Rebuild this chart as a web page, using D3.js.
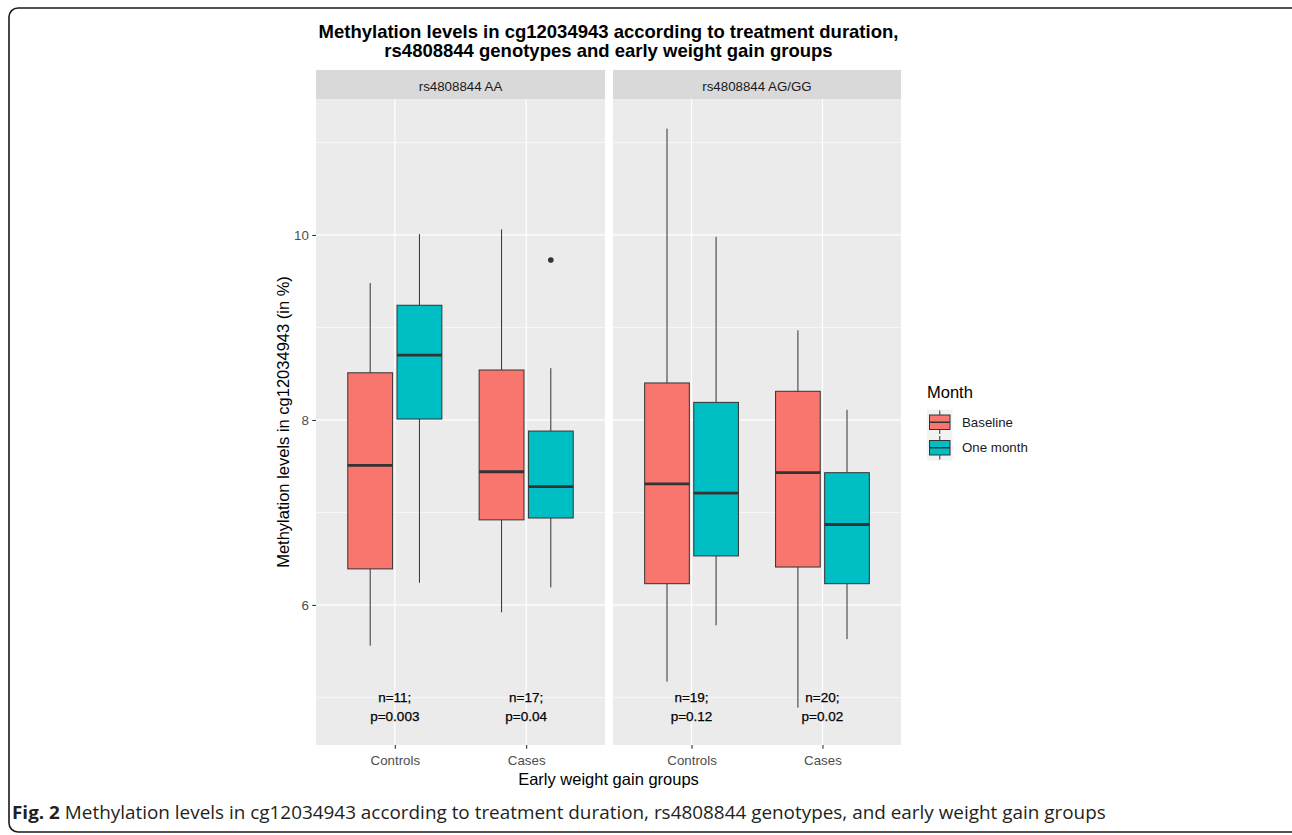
<!DOCTYPE html>
<html>
<head>
<meta charset="utf-8">
<script src="https://cdn.jsdelivr.net/npm/d3@7"></script>
<style>
  html, body { margin: 0; padding: 0; background: #ffffff; }
  svg { display: block; }
  text { font-family: "Liberation Sans", Arial, sans-serif; }
</style>
</head>
<body>
<svg id="chart" width="1292" height="835"></svg>
<script>
// ---------------- DATA ----------------
const genotypes = ["rs4808844 AA", "rs4808844 AG/GG"];
const groups = ["Controls", "Cases"];
const months = ["Baseline", "One month"];
const yTicks = [6, 8, 10];
const yMinorTicks = [5, 7, 9, 11];

// box statistics: [lower whisker, Q1, median, Q3, upper whisker]
const aaControlsBaseline   = [5.56, 6.39, 7.51, 8.51, 9.48];
const aaControlsOneMonth   = [6.24, 8.01, 8.70, 9.24, 10.01];
const aaCasesBaseline      = [5.92, 6.92, 7.44, 8.54, 10.06];
const aaCasesOneMonth      = [6.19, 6.94, 7.28, 7.88, 8.56];
const aggControlsBaseline  = [5.17, 6.23, 7.31, 8.40, 11.15];
const aggControlsOneMonth  = [5.78, 6.53, 7.21, 8.19, 9.98];
const aggCasesBaseline     = [4.89, 6.41, 7.43, 8.31, 8.97];
const aggCasesOneMonth     = [5.63, 6.23, 6.87, 7.43, 8.11];

// outliers: [genotype index, group index, month index, value]
const outliers = [[0, 1, 1, 9.73]];

// annotation texts per genotype / group
const nLabels = [["n=11;", "n=17;"], ["n=19;", "n=20;"]];
const pLabels = [["p=0.003", "p=0.04"], ["p=0.12", "p=0.02"]];
const annotNValue = 5.0;
const annotPValue = 4.80;

const titleLines = ["Methylation levels in cg12034943 according to treatment duration,",
                    "rs4808844 genotypes and early weight gain groups"];
const yTitle = "Methylation levels in cg12034943 (in %)";
const xTitle = "Early weight gain groups";
const legendTitle = "Month";
const captionBold = "Fig. 2";
const captionText = " Methylation levels in cg12034943 according to treatment duration, rs4808844 genotypes, and early weight gain groups";

const yDomain = [4.486, 11.47];

// ---------------- STYLE ----------------
const colors = d3.scaleOrdinal().domain(months).range(["#F8766D", "#00BFC4"]);
const panelBg = "#ebebeb", stripBg = "#d9d9d9", ink = "#333333";
const panels = [{x0: 316, x1: 605}, {x0: 613, x1: 901}];
const panelTop = 99, panelBottom = 745, stripTop = 70;

const stats = [
  [[aaControlsBaseline, aaControlsOneMonth], [aaCasesBaseline, aaCasesOneMonth]],
  [[aggControlsBaseline, aggControlsOneMonth], [aggCasesBaseline, aggCasesOneMonth]]
];
const table = [];
genotypes.forEach((g, gi) => groups.forEach((grp, ki) => months.forEach((m, mi) => {
  const s = stats[gi][ki][mi];
  table.push({gi, grp, month: m, mi, lo: s[0], q1: s[1], med: s[2], q3: s[3], hi: s[4]});
})));

const svg = d3.select("#chart");
const y = d3.scaleLinear().domain(yDomain).range([panelBottom, panelTop]);

// border
svg.append("rect").attr("x", 9).attr("y", 8).attr("width", 1300).attr("height", 824)
  .attr("rx", 9).attr("fill", "none").attr("stroke", "#1a1a1a").attr("stroke-width", 1.6);

// title
svg.append("g").selectAll("text").data(titleLines).join("text")
  .attr("x", (panels[0].x0 + panels[1].x1) / 2).attr("y", (d, i) => 38 + i * 19)
  .attr("text-anchor", "middle").attr("font-weight", "bold").attr("font-size", 18.5)
  .attr("fill", "#000").text(d => d);

genotypes.forEach((g, gi) => {
  const p = panels[gi];
  const x = d3.scalePoint().domain(groups).range([p.x0, p.x1]).padding(0.6);
  const step = x.step();
  const xm = d3.scaleBand().domain(months).range([-0.375 * step, 0.375 * step]).paddingInner(0.09).paddingOuter(0.045);
  const gp = svg.append("g");

  // strip
  gp.append("rect").attr("x", p.x0).attr("y", stripTop).attr("width", p.x1 - p.x0)
    .attr("height", panelTop - stripTop).attr("fill", stripBg);
  gp.append("text").attr("x", (p.x0 + p.x1) / 2).attr("y", 90.5).attr("text-anchor", "middle")
    .attr("font-size", 13.3).attr("fill", "#1a1a1a").text(g);

  // panel background
  gp.append("rect").attr("x", p.x0).attr("y", panelTop).attr("width", p.x1 - p.x0)
    .attr("height", panelBottom - panelTop).attr("fill", panelBg);

  // grid
  gp.append("g").selectAll("line").data(yMinorTicks).join("line")
    .attr("x1", p.x0).attr("x2", p.x1).attr("y1", d => y(d)).attr("y2", d => y(d))
    .attr("stroke", "#fff").attr("stroke-width", 0.6);
  gp.append("g").selectAll("line").data(yTicks).join("line")
    .attr("x1", p.x0).attr("x2", p.x1).attr("y1", d => y(d)).attr("y2", d => y(d))
    .attr("stroke", "#fff").attr("stroke-width", 1.2);
  gp.append("g").selectAll("line").data(groups).join("line")
    .attr("x1", d => x(d)).attr("x2", d => x(d)).attr("y1", panelTop).attr("y2", panelBottom)
    .attr("stroke", "#fff").attr("stroke-width", 1.2);

  // boxes
  const rows = table.filter(r => r.gi === gi);
  const bg = gp.append("g").selectAll("g").data(rows).join("g")
    .attr("transform", r => `translate(${x(r.grp) + xm(r.month)},0)`);
  const bw = xm.bandwidth();
  bg.append("line").attr("x1", bw / 2).attr("x2", bw / 2).attr("y1", r => y(r.hi)).attr("y2", r => y(r.q3))
    .attr("stroke", ink).attr("stroke-width", 1);
  bg.append("line").attr("x1", bw / 2).attr("x2", bw / 2).attr("y1", r => y(r.q1)).attr("y2", r => y(r.lo))
    .attr("stroke", ink).attr("stroke-width", 1);
  bg.append("rect").attr("x", 0).attr("width", bw).attr("y", r => y(r.q3)).attr("height", r => y(r.q1) - y(r.q3))
    .attr("fill", r => colors(r.month)).attr("stroke", ink).attr("stroke-width", 1);
  bg.append("line").attr("x1", 0).attr("x2", bw).attr("y1", r => y(r.med)).attr("y2", r => y(r.med))
    .attr("stroke", ink).attr("stroke-width", 2.8);

  // outliers
  gp.append("g").selectAll("circle").data(outliers.filter(o => o[0] === gi)).join("circle")
    .attr("cx", o => x(groups[o[1]]) + xm(months[o[2]]) + bw / 2).attr("cy", o => y(o[3]))
    .attr("r", 2.8).attr("fill", ink);

  // annotations
  gp.append("g").selectAll("text").data(groups).join("text")
    .attr("x", d => x(d)).attr("y", y(annotNValue) + 5).attr("text-anchor", "middle")
    .attr("font-size", 13.5).attr("fill", "#000").attr("stroke", "#000").attr("stroke-width", 0.25)
    .text((d, i) => nLabels[gi][i]);
  gp.append("g").selectAll("text").data(groups).join("text")
    .attr("x", d => x(d)).attr("y", y(annotPValue) + 5).attr("text-anchor", "middle")
    .attr("font-size", 13.5).attr("fill", "#000").attr("stroke", "#000").attr("stroke-width", 0.25)
    .text((d, i) => pLabels[gi][i]);

  // x axis
  const xa = gp.append("g").attr("transform", `translate(0,${panelBottom})`)
    .call(d3.axisBottom(x).tickSize(3.7).tickPadding(4));
  xa.select(".domain").remove();
  xa.selectAll("line").attr("stroke", ink).attr("stroke-width", 1.1);
  xa.selectAll("text").attr("font-size", 13.3).attr("fill", "#4d4d4d")
    .attr("dy", null).attr("y", 20);
});

// y axis
const ya = svg.append("g").attr("transform", `translate(${panels[0].x0},0)`)
  .call(d3.axisLeft(y).tickValues(yTicks).tickFormat(d3.format("d")).tickSize(3.7).tickPadding(3.5));
ya.select(".domain").remove();
ya.selectAll("line").attr("stroke", ink).attr("stroke-width", 1.1);
ya.selectAll("text").attr("font-size", 13.3).attr("fill", "#4d4d4d");

// axis titles
svg.append("text").attr("transform", `translate(289,${(panelTop + panelBottom) / 2}) rotate(-90)`)
  .attr("text-anchor", "middle").attr("font-size", 16.5).attr("fill", "#000").text(yTitle);
svg.append("text").attr("x", (panels[0].x0 + panels[1].x1) / 2).attr("y", 785)
  .attr("text-anchor", "middle").attr("font-size", 16.5).attr("fill", "#000").text(xTitle);

// legend
const lg = svg.append("g").attr("transform", "translate(927,0)");
lg.append("text").attr("x", 0).attr("y", 398).attr("font-size", 16.5).attr("fill", "#000").text(legendTitle);
const keyH = 25.5, keyW = 25.5, keyTop = 409.5;
const keys = lg.selectAll("g.key").data(months).join("g").attr("class", "key")
  .attr("transform", (d, i) => `translate(0,${keyTop + i * keyH})`);
keys.append("rect").attr("width", keyW).attr("height", keyH).attr("fill", "#f2f2f2");
keys.append("line").attr("x1", keyW / 2).attr("x2", keyW / 2).attr("y1", 1).attr("y2", keyH - 1)
  .attr("stroke", ink).attr("stroke-width", 1);
keys.append("rect").attr("x", 2.5).attr("width", keyW - 5).attr("y", 5.5).attr("height", keyH - 11)
  .attr("fill", d => colors(d)).attr("stroke", ink).attr("stroke-width", 1);
keys.append("line").attr("x1", 2.5).attr("x2", keyW - 2.5).attr("y1", keyH / 2).attr("y2", keyH / 2)
  .attr("stroke", ink).attr("stroke-width", 1.5);
keys.append("text").attr("x", 35).attr("y", keyH / 2 + 4.7).attr("font-size", 13.3)
  .attr("fill", "#1a1a1a").text(d => d);

// caption
const cap = svg.append("text").style("font-family", "'Open Sans', 'Noto Sans', sans-serif")
  .attr("font-size", 18.5).attr("fill", "#231f20");
cap.append("tspan").attr("font-weight", "bold").text(captionBold);
cap.append("tspan").attr("font-weight", 400).text(captionText);
const w = cap.node().getComputedTextLength();
const k = 1095 / w;
cap.attr("transform", `translate(12,818.5) scale(${k},1)`);
</script>
</body>
</html>
